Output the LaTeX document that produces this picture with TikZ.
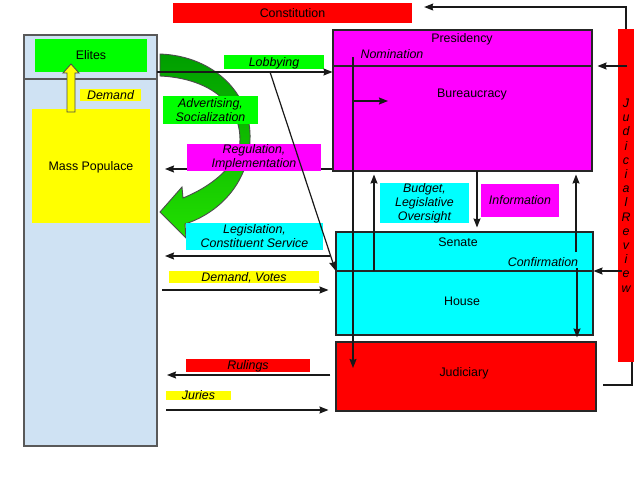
\documentclass[tikz,border=0pt]{standalone}
\usepackage{fontspec}
\setmainfont{Liberation Sans}
\usepackage{xcolor}
\usetikzlibrary{arrows.meta, positioning}

\definecolor{paleblue}{HTML}{CFE2F3}
\definecolor{gdgreen}{HTML}{00FF00}
\definecolor{gdmagenta}{HTML}{FF00FF}
\definecolor{gdcyan}{HTML}{00FFFF}
\definecolor{gdyellow}{HTML}{FFFF00}
\definecolor{gdred}{HTML}{FF0000}
\definecolor{arcdark}{HTML}{009E00}
\definecolor{arclight}{HTML}{22E000}

\begin{document}
\begin{tikzpicture}[
    x=1pt, y=-1pt,
    >={Stealth[length=9pt, width=7pt, inset=1pt]},
    every node/.style={align=center, inner sep=0pt, font=\fontsize{12.4}{14}\selectfont}
]

\tikzset{
    boxsize/.style 2 args={minimum width=#1, minimum height=#2},
    sidepanel/.style={draw=black!65, line width=1.4pt, fill=paleblue},
    govbox/.style={draw=black!85, line width=1.1pt},
    blocklabel/.style={text height=8pt, text depth=0pt},
    flowlabel/.style={font=\fontsize{12.4}{14}\selectfont\itshape},
    flow/.style={->, draw=black!90, line width=1.2pt},
    wire/.style={draw=black!90, line width=1.2pt}
}

\fill [white] (0,0) rectangle (640,480);
\useasboundingbox (0,0) rectangle (640,480);

\node [sidepanel, boxsize={133}{44}] (citizentop) at (90.5,57) {};
\node [sidepanel, boxsize={133}{367}] (citizens) at (90.5,262.5) {};
\node [fill=gdgreen, boxsize={112}{33}, blocklabel] (elites) at (91,55.5) {Elites};
\node [fill=gdyellow, boxsize={118}{114}, blocklabel] (populace) at (91,166) {Mass Populace};
\draw [fill=gdyellow, draw=black!70, line width=0.9pt]
    (67,112) -- (67,73) -- (63,73) -- (71,64) -- (79,73) -- (75,73) -- (75,112) -- cycle;
\node [fill=gdyellow, boxsize={61}{12}, flowlabel, blocklabel] (demand) at (110.5,95) {Demand};

\node [fill=gdred, boxsize={239}{20}, blocklabel] (constitution) at (292.5,13) {Constitution};
\node [govbox, fill=gdmagenta, boxsize={259}{36}] (presidency) at (462.5,48) {};
\node [govbox, fill=gdmagenta, boxsize={259}{105}] (bureau) at (462.5,118.5) {};
\node [govbox, fill=gdcyan, boxsize={257}{39}] (senate) at (464.5,251.5) {};
\node [govbox, fill=gdcyan, boxsize={257}{64}] (house) at (464.5,303) {};
\node [govbox, fill=gdred, boxsize={260}{69}] (judiciary) at (466,376.5) {};
\node [fill=gdred, boxsize={16}{333}] (review) at (626,195.5) {};

\node [blocklabel] (presidencytext) at (462,38) {Presidency};
\node [blocklabel] (bureautext) at (472,93) {Bureaucracy};
\node [blocklabel, flowlabel] (nomination) at (392,54) {Nomination};
\node [blocklabel] (senatetext) at (458,242) {Senate};
\node [blocklabel, flowlabel] (confirmation) at (543,262) {Confirmation};
\node [blocklabel] (housetext) at (462,301) {House};
\node [blocklabel] (judiciarytext) at (464,372) {Judiciary};
\node [font=\fontsize{12.4}{14.2}\selectfont\itshape] (reviewtext) at (626,195.5)
    {J\\u\\d\\i\\c\\i\\a\\l\\R\\e\\v\\i\\e\\w};

\draw [draw=black!70, line width=0.9pt, top color=arcdark, bottom color=arclight]
    (160,54) .. controls (215,56) and (252,95) .. (250,140)
    .. controls (249,180) and (222,212) .. (185,224)
    -- (186,238) -- (160,212) -- (182,187) -- (183,198)
    .. controls (215,185) and (240,162) .. (240,140)
    .. controls (240,100) and (205,78) .. (160,76) -- cycle;

\coordinate (regrow) at (165,169);
\coordinate (legrow) at (165,256);
\coordinate (voterow) at (162,290);
\coordinate (rulerow) at (167,375);
\coordinate (juryrow) at (166,410);
\draw [flow] (regrow -| bureau.west) -- (regrow);
\draw [flow] ([xshift=-5pt]legrow -| senate.west) -- (legrow);
\draw [flow, shorten >=7pt] (voterow) -- (voterow -| house.west);
\draw [flow] ([xshift=-5pt]rulerow -| judiciary.west) -- (rulerow);
\draw [flow, shorten >=7pt] (juryrow) -- (juryrow -| judiciary.west);

\node [fill=gdgreen, boxsize={100}{14}, flowlabel, blocklabel] (lobbying) at (274,62) {Lobbying};
\node [fill=gdgreen, boxsize={95}{28}, flowlabel] (advertising) at (210.5,110) {Advertising,\\Socialization};
\node [fill=gdmagenta, boxsize={134}{27}, flowlabel] (regulation) at (254,157.5) {Regulation,\\Implementation};
\node [fill=gdcyan, boxsize={137}{27}, flowlabel] (legislation) at (254.5,236.5) {Legislation,\\Constituent Service};
\node [fill=gdyellow, boxsize={150}{12}, flowlabel, blocklabel] (votes) at (244,277) {Demand, Votes};
\node [fill=gdred, boxsize={124}{13}, flowlabel, blocklabel] (rulings) at (248,365.5) {Rulings};
\node [fill=gdyellow, boxsize={65}{9}, flowlabel, blocklabel] (juries) at (198.5,395.5) {Juries};
\node [fill=gdcyan, boxsize={89}{40}, flowlabel] (budget) at (424.5,203) {Budget,\\Legislative\\Oversight};
\node [fill=gdmagenta, boxsize={78}{33}, flowlabel, blocklabel] (information) at (520,200.5) {Information};

\coordinate (lobbystart) at (157,72);
\coordinate (lobbyfork) at (270,72);
\draw [flow] (lobbystart) -- (lobbystart -| bureau.west);
\draw [flow] (lobbyfork) -- (house.north west);

\coordinate (nomtop) at (353,57);
\coordinate (nomfork) at (353,101);
\coordinate (nomend) at (353,368);
\draw [flow] (nomtop) -- (nomend);
\draw [flow] (nomfork) -- ++(35,0);

\coordinate (infocol) at (477,171);
\coordinate (budgetcol) at (374,271);
\coordinate (confup) at (576,252);
\coordinate (confdown) at (577,268);
\draw [flow, shorten >=4pt] (infocol) -- (infocol |- senate.north);
\draw [flow, shorten >=3pt] (budgetcol) -- (budgetcol |- bureau.south);
\draw [flow, shorten >=3pt] (confup) -- (confup |- bureau.south);
\draw [flow, shorten >=4pt] (confdown) -- (confdown |- judiciary.north);

\coordinate (revpres) at (627,66);
\coordinate (revcong) at (622,271);
\coordinate (revtop) at (626,7);
\coordinate (judlink) at (632,385);
\draw [flow, shorten >=5pt] (revpres) -- (revpres -| bureau.east);
\draw [flow] (revcong) -- (revcong -| house.east);
\draw [flow, shorten >=12pt] (review.north) -- (revtop) -- (revtop -| constitution.east);
\draw [wire] (review.south -| judlink) -- (judlink) -- ++(-29,0);

\end{tikzpicture}
\end{document}
